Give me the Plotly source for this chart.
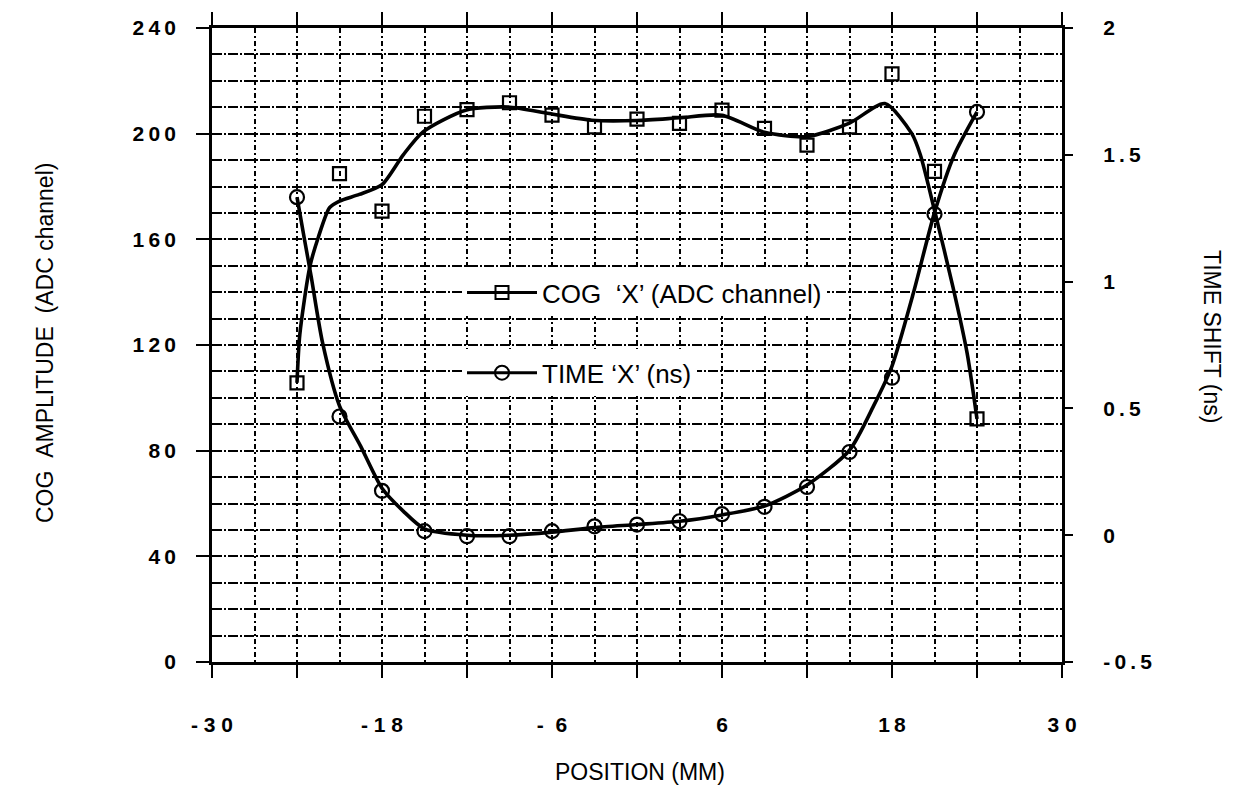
import plotly.graph_objects as go

# Measured points: COG amplitude (ADC channel) and time shift (ns) vs position (mm)
positions = [-24, -21, -18, -15, -12, -9, -6, -3, 0, 3, 6, 9, 12, 15, 18, 21, 24]
cog_amplitude = [105.7, 184.9, 170.7, 206.6, 209.1, 211.7, 207.0, 202.6, 205.5,
                 203.9, 208.9, 202.0, 195.7, 202.6, 222.6, 185.7, 92.0]
time_shift = [1.333, 0.468, 0.175, 0.016, -0.004, -0.004, 0.016, 0.035, 0.042,
              0.055, 0.083, 0.112, 0.190, 0.328, 0.621, 1.266, 1.669]

# Smoothed curve through the COG amplitude
cog_fit_x = [-24, -23.8, -23.1, -22.5, -21.7, -21, -19.6, -18, -16.5, -15.1, -12.1,
             -9.1, -6.2, -3.2, 0, 3, 6, 9, 12, 15, 17.5, 19.4, 20, 21, 22.3, 23.3, 24]
cog_fit_y = [105.7, 124, 149.5, 160.7, 172, 174.5, 177, 180.7, 192, 200.7, 208.9,
             210.1, 207.6, 205.1, 205, 206, 207, 200.5, 198.9, 204, 211.4, 200, 192,
             171, 142, 117, 92]

# Smoothed curve through the time shift
time_fit_x = [-24, -23.5, -23, -22.2, -21, -19.5, -18, -16.5, -15, -12, -9, -6, -3, 0,
              3, 6, 9, 12, 15, 16.7, 18, 19.5, 21, 22.4, 24]
time_fit_y = [1.333, 1.175, 1.02, 0.76, 0.51, 0.35, 0.185, 0.095, 0.025, 0.0, 0.0,
              0.012, 0.03, 0.042, 0.055, 0.08, 0.115, 0.198, 0.335, 0.51, 0.667,
              0.953, 1.272, 1.5, 1.669]

TS = "\u2009"  # thin space used to spread the digits of the tick labels
x_ticks = [-30, -24, -18, -12, -6, 0, 6, 12, 18, 24, 30]
x_tick_text = ["- 3 0", "", "- 1 8", "", "-  6", "", "6", "", "1" + TS + "8", "", "3 0"]
x_minor = [-27, -21, -15, -9, -3, 3, 9, 15, 21, 27]
y_ticks = [0, 40, 80, 120, 160, 200, 240]
y_tick_text = ["0", "4" + TS + "0", "8" + TS + "0", TS.join("120"), TS.join("160"),
               TS.join("200"), TS.join("240")]
y_minor = [v for v in range(10, 240, 10) if v % 40 != 0]
y2_ticks = [-0.5, 0, 0.5, 1, 1.5, 2]
y2_tick_text = [TS.join("-0.5"), "0", TS.join("0.5"), "1", TS.join("1.5"), "2"]

INK = "black"
FONT = "Liberation Sans, Arial, sans-serif"
HGRID = "10px,2px,2px,2px"
VGRID = "5px,3px,2px,3px"

fig = go.Figure()

fig.add_trace(go.Scatter(
    x=cog_fit_x, y=cog_fit_y, mode="lines",
    line=dict(color=INK, width=3.6, shape="spline", smoothing=0.7),
    showlegend=False, hoverinfo="skip"))
fig.add_trace(go.Scatter(
    x=positions, y=cog_amplitude, mode="markers",
    marker=dict(symbol="square-open", size=13, color=INK, line=dict(width=2.2)),
    showlegend=False))

fig.add_trace(go.Scatter(
    x=time_fit_x, y=time_fit_y, mode="lines", yaxis="y2",
    line=dict(color=INK, width=3.6, shape="spline", smoothing=0.7),
    showlegend=False, hoverinfo="skip"))
fig.add_trace(go.Scatter(
    x=positions, y=time_shift, mode="markers", yaxis="y2",
    marker=dict(symbol="circle-open", size=14, color=INK, line=dict(width=2.2)),
    showlegend=False))

# Legend entries
fig.add_trace(go.Scatter(
    x=[None], y=[None], mode="lines+markers", name="COG\u00a0\u00a0\u2018X\u2019 (ADC channel)",
    line=dict(color=INK, width=3),
    marker=dict(symbol="square-open", size=13, color=INK, line=dict(width=2)),
    legend="legend"))
fig.add_trace(go.Scatter(
    x=[None], y=[None], mode="lines+markers", name="TIME \u2018X\u2019 (ns)",
    line=dict(color=INK, width=3),
    marker=dict(symbol="circle-open", size=14, color=INK, line=dict(width=2)),
    legend="legend2"))

L, R, T, B = 212, 1062, 22, 662
W, H = 1237, 787

def px_x(p):
    return (p - L) / (R - L)

def px_y(p):
    return (B - p) / (B - T)

legend_common = dict(
    bgcolor="white", borderwidth=0, font=dict(family=FONT, size=26, color=INK),
    itemwidth=70, xanchor="left", yanchor="middle", x=px_x(462))

fig.update_layout(
    width=W, height=H,
    margin=dict(l=L, r=W - R, t=T, b=H - B, pad=0),
    paper_bgcolor="white", plot_bgcolor="white",
    font=dict(family=FONT, color=INK),
    legend=dict(**legend_common, y=px_y(289)),
    legend2=dict(**legend_common, y=px_y(370)),
    xaxis=dict(
        range=[-30, 30], tickmode="array", tickvals=x_ticks, ticktext=x_tick_text,
        ticks="outside", ticklen=13, tickwidth=2, tickcolor=INK,
        showline=True, linewidth=2.5, linecolor=INK, mirror="ticks",
        showgrid=True, gridcolor=INK, gridwidth=1.6, griddash=VGRID,
        minor=dict(tickmode="array", tickvals=x_minor, showgrid=True, gridcolor=INK,
                   gridwidth=1.6, griddash=VGRID, ticks=""),
        zeroline=False, ticklabelstandoff=29,
        tickfont=dict(family=FONT, size=21, color=INK, weight="bold")),
    yaxis=dict(
        range=[0, 240], tickmode="array", tickvals=y_ticks, ticktext=y_tick_text,
        ticks="outside", ticklen=13, tickwidth=2, tickcolor=INK,
        showline=True, linewidth=2.5, linecolor=INK, mirror=True,
        showgrid=True, gridcolor=INK, gridwidth=1.8, griddash=HGRID,
        minor=dict(tickmode="array", tickvals=y_minor, showgrid=True, gridcolor=INK,
                   gridwidth=1.8, griddash=HGRID, ticks=""),
        zeroline=False, ticklabelstandoff=16,
        tickfont=dict(family=FONT, size=21, color=INK, weight="bold")),
    yaxis2=dict(
        range=[-0.5, 2], overlaying="y", side="right", tickmode="array",
        tickvals=y2_ticks, ticktext=y2_tick_text,
        ticks="outside", ticklen=10, tickwidth=1.5, tickcolor=INK,
        showline=False, showgrid=False, zeroline=False, ticklabelstandoff=26,
        tickfont=dict(family=FONT, size=21, color=INK, weight="bold")),
    annotations=[
        dict(text="COG\u00a0\u00a0AMPLITUDE\u00a0\u00a0(ADC channel)", xref="paper", yref="paper",
             x=px_x(45), y=px_y(340), textangle=-90, showarrow=False,
             xanchor="center", yanchor="middle", font=dict(family=FONT, size=23, color=INK)),
        dict(text="TIME SHIFT (ns)", xref="paper", yref="paper",
             x=px_x(1212), y=px_y(333), textangle=90, showarrow=False,
             xanchor="center", yanchor="middle", font=dict(family=FONT, size=23, color=INK)),
        dict(text="POSITION (MM)", xref="paper", yref="paper",
             x=px_x(640), y=px_y(773), showarrow=False,
             xanchor="center", yanchor="middle", font=dict(family=FONT, size=23, color=INK)),
    ],
)

fig.write_html("out.html")
